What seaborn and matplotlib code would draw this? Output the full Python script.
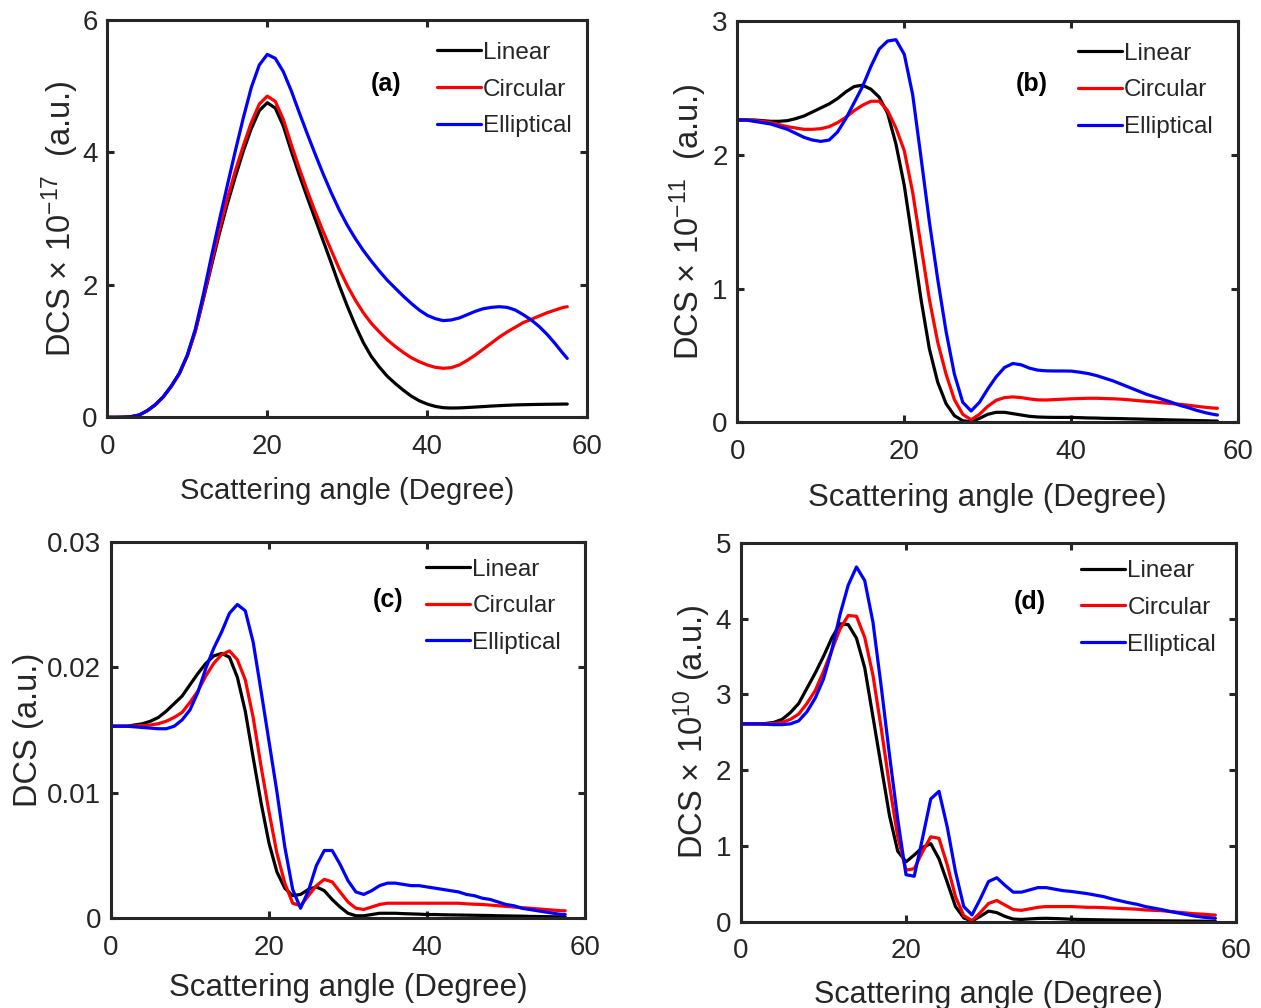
import matplotlib
matplotlib.use("Agg")
import matplotlib.pyplot as plt
import seaborn as sns
import pandas as pd

# ---------------- data ----------------
angle = list(range(58)) + [57.5]
series_names = ["Linear", "Circular", "Elliptical"]
colors = {"Linear": "#000000", "Circular": "#ff0000", "Elliptical": "#0000ff"}

# panel (a)
a_linear = [0, 0, 0.002, 0.01, 0.035, 0.1, 0.19, 0.31, 0.47, 0.66, 0.93, 1.3, 1.78, 2.28, 2.77, 3.22,
            3.63, 4.02, 4.36, 4.63, 4.75, 4.67, 4.4, 4.02, 3.66, 3.32, 2.99, 2.66, 2.33, 1.99, 1.68,
            1.39, 1.13, 0.92, 0.76, 0.62, 0.51, 0.41, 0.32, 0.25, 0.2, 0.165, 0.145, 0.14, 0.142,
            0.148, 0.155, 0.162, 0.17, 0.176, 0.182, 0.187, 0.19, 0.193, 0.195, 0.197, 0.198, 0.2, 0.2]
a_circular = [0, 0, 0.002, 0.01, 0.035, 0.1, 0.19, 0.31, 0.47, 0.66, 0.93, 1.3, 1.8, 2.32, 2.83, 3.3,
              3.72, 4.1, 4.45, 4.73, 4.85, 4.77, 4.5, 4.12, 3.76, 3.42, 3.1, 2.8, 2.52, 2.24, 1.99,
              1.77, 1.58, 1.42, 1.29, 1.17, 1.07, 0.98, 0.9, 0.84, 0.79, 0.755, 0.74, 0.75, 0.79,
              0.86, 0.94, 1.03, 1.12, 1.21, 1.29, 1.36, 1.43, 1.48, 1.53, 1.58, 1.62, 1.66, 1.67]
a_elliptical = [0, 0, 0.002, 0.01, 0.035, 0.1, 0.19, 0.31, 0.47, 0.66, 0.94, 1.33, 1.85, 2.42, 2.97,
                3.5, 4.02, 4.52, 4.98, 5.32, 5.48, 5.42, 5.22, 4.93, 4.6, 4.28, 3.97, 3.67, 3.39,
                3.13, 2.9, 2.7, 2.52, 2.36, 2.21, 2.07, 1.95, 1.83, 1.72, 1.62, 1.54, 1.49, 1.46,
                1.47, 1.5, 1.55, 1.6, 1.64, 1.66, 1.67, 1.66, 1.62, 1.55, 1.47, 1.37, 1.25, 1.11,
                0.96, 0.89]

# panel (b)
b_linear = [2.26, 2.26, 2.26, 2.255, 2.25, 2.25, 2.255, 2.27, 2.29, 2.32, 2.35, 2.38, 2.42, 2.47,
            2.51, 2.52, 2.49, 2.43, 2.31, 2.08, 1.77, 1.35, 0.92, 0.55, 0.3, 0.14, 0.05, 0.012,
            0.005, 0.03, 0.06, 0.075, 0.075, 0.065, 0.055, 0.045, 0.04, 0.038, 0.037, 0.037, 0.037,
            0.035, 0.033, 0.032, 0.03, 0.029, 0.028, 0.026, 0.025, 0.023, 0.022, 0.02, 0.018, 0.017,
            0.015, 0.013, 0.012, 0.01, 0.01]
b_circular = [2.26, 2.26, 2.255, 2.25, 2.24, 2.225, 2.21, 2.2, 2.19, 2.19, 2.195, 2.21, 2.24, 2.28,
              2.33, 2.37, 2.4, 2.4, 2.33, 2.2, 2.03, 1.72, 1.32, 0.92, 0.6, 0.36, 0.17, 0.06, 0.02,
              0.06, 0.12, 0.165, 0.185, 0.19, 0.185, 0.175, 0.168, 0.167, 0.17, 0.173, 0.176, 0.178,
              0.18, 0.18, 0.178, 0.176, 0.173, 0.168, 0.162, 0.157, 0.152, 0.146, 0.14, 0.135, 0.128,
              0.12, 0.113, 0.107, 0.105]
b_elliptical = [2.26, 2.26, 2.25, 2.24, 2.23, 2.21, 2.19, 2.16, 2.13, 2.11, 2.1, 2.11, 2.17, 2.27,
                2.39, 2.51, 2.66, 2.79, 2.85, 2.86, 2.75, 2.45, 1.98, 1.5, 1.07, 0.68, 0.36, 0.15,
                0.085, 0.15, 0.25, 0.34, 0.41, 0.44, 0.43, 0.405, 0.39, 0.385, 0.384, 0.384, 0.383,
                0.375, 0.365, 0.35, 0.33, 0.31, 0.285, 0.26, 0.235, 0.21, 0.19, 0.17, 0.15, 0.127,
                0.11, 0.09, 0.073, 0.06, 0.055]

# panel (c)
c_linear = [0.0153, 0.0153, 0.0153, 0.0154, 0.0155, 0.0157, 0.016, 0.0165, 0.0171, 0.0177, 0.0186,
            0.0195, 0.0203, 0.0209, 0.0211, 0.0208, 0.0192, 0.0165, 0.0128, 0.0092, 0.006, 0.0037,
            0.0024, 0.0018, 0.0019, 0.0023, 0.0025, 0.0022, 0.0015, 0.0009, 0.0004, 0.0002, 0.0002,
            0.0003, 0.0004, 0.0004, 0.0004, 0.00037, 0.00035, 0.00033, 0.0003, 0.0003, 0.00028,
            0.00027, 0.00026, 0.00025, 0.00024, 0.00023, 0.00022, 0.0002, 0.00019, 0.00018,
            0.00017, 0.00015, 0.00014, 0.00013, 0.00012, 0.00011, 0.0001]
c_circular = [0.0153, 0.0153, 0.0153, 0.01532, 0.01535, 0.0154, 0.0155, 0.0157, 0.016, 0.0164,
              0.0172, 0.0181, 0.0193, 0.0203, 0.021, 0.0213, 0.0206, 0.019, 0.016, 0.0121, 0.0085,
              0.0052, 0.0028, 0.0012, 0.001, 0.0018, 0.0026, 0.0031, 0.0029, 0.0021, 0.0013, 0.0008,
              0.0007, 0.0009, 0.0011, 0.0012, 0.0012, 0.0012, 0.0012, 0.0012, 0.0012, 0.0012, 0.0012,
              0.0012, 0.0012, 0.00115, 0.00112, 0.0011, 0.00105, 0.001, 0.00095, 0.0009, 0.00085,
              0.0008, 0.00075, 0.0007, 0.00065, 0.0006, 0.0006]
c_elliptical = [0.0153, 0.0153, 0.0153, 0.01525, 0.0152, 0.01515, 0.0151, 0.0151, 0.0153, 0.0158,
                0.0166, 0.018, 0.0199, 0.0215, 0.0228, 0.0243, 0.025, 0.0245, 0.022, 0.0181, 0.0141,
                0.0101, 0.0057, 0.0023, 0.0008, 0.0022, 0.0042, 0.0054, 0.0054, 0.0043, 0.003, 0.0021,
                0.0019, 0.0022, 0.0026, 0.0028, 0.0028, 0.0027, 0.0026, 0.0026, 0.0025, 0.0024,
                0.0023, 0.0022, 0.0021, 0.0019, 0.0018, 0.0016, 0.0015, 0.0013, 0.0011, 0.001,
                0.0008, 0.0007, 0.0006, 0.0005, 0.0004, 0.0003, 0.0003]

# panel (d)
d_linear = [2.61, 2.61, 2.61, 2.615, 2.63, 2.67, 2.76, 2.88, 3.08, 3.28, 3.5, 3.74, 3.93, 3.92, 3.74,
            3.35, 2.7, 2.05, 1.4, 0.93, 0.79, 0.88, 0.98, 1.03, 0.83, 0.52, 0.2, 0.05, 0.01, 0.07,
            0.14, 0.12, 0.07, 0.035, 0.03, 0.037, 0.043, 0.045, 0.042, 0.038, 0.033, 0.03, 0.028,
            0.026, 0.024, 0.022, 0.02, 0.018, 0.016, 0.015, 0.013, 0.012, 0.011, 0.01, 0.009, 0.008,
            0.007, 0.006, 0.005]
d_circular = [2.61, 2.61, 2.61, 2.61, 2.615, 2.63, 2.67, 2.74, 2.88, 3.05, 3.3, 3.58, 3.86, 4.04,
              4.03, 3.75, 3.25, 2.55, 1.8, 1.12, 0.68, 0.7, 0.92, 1.12, 1.1, 0.75, 0.33, 0.08, 0.015,
              0.12, 0.24, 0.28, 0.22, 0.16, 0.15, 0.17, 0.19, 0.2, 0.2, 0.2, 0.2, 0.195, 0.19, 0.19,
              0.185, 0.18, 0.175, 0.17, 0.165, 0.155, 0.15, 0.145, 0.135, 0.125, 0.115, 0.105, 0.1,
              0.09, 0.088]
d_elliptical = [2.61, 2.61, 2.61, 2.605, 2.6, 2.6, 2.61, 2.65, 2.77, 2.95, 3.2, 3.58, 4.05, 4.44,
                4.68, 4.5, 3.95, 3.1, 2.2, 1.35, 0.62, 0.6, 1.1, 1.62, 1.72, 1.25, 0.66, 0.2, 0.09,
                0.3, 0.53, 0.58, 0.48, 0.39, 0.39, 0.42, 0.45, 0.45, 0.43, 0.41, 0.4, 0.385, 0.37,
                0.35, 0.33, 0.3, 0.275, 0.25, 0.23, 0.2, 0.18, 0.16, 0.135, 0.115, 0.095, 0.075,
                0.06, 0.05, 0.045]

x_ticks = [0, 20, 40, 60]
a_yticks = [0, 2, 4, 6]
b_yticks = [0, 1, 2, 3]
c_yticks = [0, 0.01, 0.02, 0.03]
c_yticklabels = ["0", "0.01", "0.02", "0.03"]
d_yticks = [0, 1, 2, 3, 4, 5]

x_label = "Scattering angle (Degree)"
panels = [
    dict(tag="(a)", ys=(a_linear, a_circular, a_elliptical), yticks=a_yticks, ylabels=None,
         ylabel="DCS × 10$^{-17}$  (a.u.)", pos=[0.0851, 0.586, 0.3806, 0.3942],
         leg=(0.687, 0.825), tagpos=(0.58, 0.839), xfs=21, xpad=12, ypad=1),
    dict(tag="(b)", ys=(b_linear, b_circular, b_elliptical), yticks=b_yticks, ylabels=None,
         ylabel="DCS × 10$^{-11}$  (a.u.)", pos=[0.5847, 0.581, 0.3973, 0.3982],
         leg=(0.68, 0.827), tagpos=(0.588, 0.843), xfs=22.5, xpad=13, ypad=2),
    dict(tag="(c)", ys=(c_linear, c_circular, c_elliptical), yticks=c_yticks, ylabels=c_yticklabels,
         ylabel="DCS (a.u.)", pos=[0.088, 0.089, 0.3759, 0.3736],
         leg=(0.665, 0.829), tagpos=(0.584, 0.845), xfs=22.5, xpad=9, ypad=2),
    dict(tag="(d)", ys=(d_linear, d_circular, d_elliptical), yticks=d_yticks, ylabels=None,
         ylabel="DCS × 10$^{10}$ (a.u.)", pos=[0.5876, 0.0856, 0.3926, 0.3760],
         leg=(0.687, 0.828), tagpos=(0.584, 0.843), xfs=22, xpad=11, ypad=2),
]

# ---------------- style ----------------
sns.set_theme(style="ticks")
font_list = ["Liberation Sans", "DejaVu Sans"]
plt.rcParams["font.family"] = font_list
plt.rcParams["mathtext.fontset"] = "custom"
plt.rcParams["mathtext.rm"] = "Liberation Sans"
plt.rcParams["mathtext.it"] = "Liberation Sans:italic"
plt.rcParams["mathtext.bf"] = "Liberation Sans:bold"
axis_color = "#262626"

fig = plt.figure(figsize=(12.61, 10.08), dpi=100)

for p in panels:
    ax = fig.add_axes(p["pos"])
    frames = []
    for name, y in zip(series_names, p["ys"]):
        frames.append(pd.DataFrame({"angle": angle, "dcs": y, "pol": name}))
    df = pd.concat(frames, ignore_index=True)
    sns.lineplot(data=df, x="angle", y="dcs", hue="pol", hue_order=series_names,
                 palette=colors, linewidth=2.3, estimator=None, sort=False, ax=ax)
    for ln in ax.get_lines():
        ln.set_solid_joinstyle("round")
    ax.set_xlim(0, 60)
    ax.set_ylim(p["yticks"][0], p["yticks"][-1])
    ax.set_xticks(x_ticks)
    ax.set_yticks(p["yticks"])
    if p["ylabels"] is not None:
        ax.set_yticklabels(p["ylabels"])
    for s in ax.spines.values():
        s.set_linewidth(2.2)
        s.set_color(axis_color)
        s.set_visible(True)
    ax.tick_params(direction="in", length=5, width=2.2, colors=axis_color,
                   top=True, right=True, labelsize=20)
    ax.tick_params(axis="x", pad=12)
    ax.tick_params(axis="y", pad=7)
    ax.set_xlabel(x_label, fontsize=p["xfs"], color=axis_color, labelpad=p["xpad"])
    ax.set_ylabel(p["ylabel"], fontsize=23.5, color=axis_color, labelpad=p["ypad"])
    handles, labels = ax.get_legend_handles_labels()
    ax.legend(handles, labels, loc="center left", bbox_to_anchor=p["leg"], frameon=False,
              fontsize=17.5, handlelength=1.8, handletextpad=0.1, labelspacing=0.6,
              borderpad=0, borderaxespad=0)
    ax.text(p["tagpos"][0], p["tagpos"][1], p["tag"], transform=ax.transAxes,
            ha="center", va="center", fontsize=18, fontweight="bold", color="black")

fig.savefig("out.png", dpi=100)
